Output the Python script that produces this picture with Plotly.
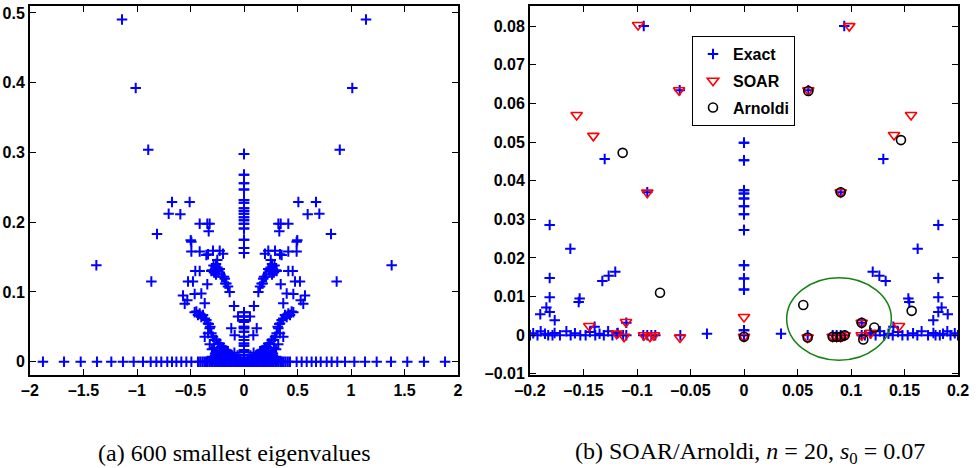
import plotly.graph_objects as go

# ---------------- (a) 600 smallest eigenvalues (right half; spectrum is symmetric in Re) ----
col_y = [0.298, 0.268, 0.256, 0.247, 0.232, 0.228, 0.220, 0.216, 0.212, 0.207, 0.203, 0.198,
         0.191, 0.175, 0.163, 0.156, 0.071, 0.065, 0.060, 0.057, 0.050, 0.048, 0.043, 0.036,
         0.031, 0.026, 0.023, 0.017, 0.014, 0.010, 0.005]

row_x = [0.0, 0.012, 0.025, 0.037, 0.05, 0.062, 0.075, 0.088, 0.1, 0.113, 0.126, 0.139, 0.152,
         0.165, 0.178, 0.191, 0.205, 0.219, 0.233, 0.247, 0.262, 0.277, 0.292, 0.307, 0.323,
         0.339, 0.355, 0.372, 0.39, 0.41, 0.43, 0.492, 0.539, 0.586, 0.632, 0.673, 0.717, 0.773,
         0.819, 0.872, 0.944, 1.031, 1.131, 1.240, 1.374, 1.526, 1.682, 1.879]

near_x = [0.04, 0.07, 0.1, 0.13, 0.16, 0.19, 0.22, 0.25, 0.28, 0.31, 0.06, 0.12, 0.18, 0.24,
          0.3, 0.09, 0.15, 0.21, 0.27]
near_y = [0.004, 0.004, 0.005, 0.005, 0.006, 0.006, 0.005, 0.005, 0.004, 0.003, 0.009, 0.010,
          0.011, 0.009, 0.007, 0.013, 0.015, 0.014, 0.012]

outer_x = [1.140, 1.012, 0.895, 0.508, 0.673, 0.595, 0.704, 0.813, 0.866, 1.380]
outer_y = [0.4905, 0.3926, 0.304, 0.229, 0.229, 0.2116, 0.212, 0.183, 0.115, 0.1385]

lobe_x = [0.321, 0.343, 0.414, 0.330, 0.498, 0.492, 0.492, 0.414, 0.336, 0.290, 0.227, 0.196,
          0.352, 0.25, 0.262, 0.27, 0.285, 0.28, 0.3, 0.24, 0.262, 0.305, 0.249, 0.227, 0.187,
          0.175, 0.150, 0.134, 0.165, 0.180, 0.206, 0.414, 0.455, 0.477, 0.523, 0.343, 0.399,
          0.461, 0.570, 0.530, 0.554, 0.367, 0.093, 0.056, 0.119, 0.087]
lobe_y = [0.198, 0.198, 0.198, 0.187, 0.174, 0.172, 0.158, 0.158, 0.154, 0.159, 0.159, 0.155,
          0.153, 0.146, 0.14, 0.133, 0.138, 0.128, 0.131, 0.13, 0.125, 0.130, 0.135, 0.133,
          0.122, 0.112, 0.108, 0.100, 0.112, 0.119, 0.122, 0.130, 0.130, 0.115, 0.115, 0.111,
          0.098, 0.097, 0.095, 0.088, 0.083, 0.084, 0.080, 0.065, 0.048, 0.038]

arm_x = [0.461, 0.445, 0.430, 0.414, 0.399, 0.383, 0.367, 0.352, 0.336, 0.330, 0.321, 0.315,
         0.305, 0.29, 0.274, 0.259, 0.243, 0.227, 0.212, 0.196, 0.18, 0.165, 0.15, 0.134, 0.118,
         0.103, 0.087, 0.367, 0.336, 0.28, 0.25, 0.22, 0.2, 0.18, 0.32, 0.3, 0.26, 0.23]
arm_y = [0.071, 0.072, 0.067, 0.069, 0.064, 0.067, 0.062, 0.060, 0.055, 0.054, 0.048, 0.050,
         0.041, 0.036, 0.031, 0.031, 0.026, 0.026, 0.021, 0.020, 0.017, 0.016, 0.012, 0.011,
         0.008, 0.006, 0.005, 0.036, 0.041, 0.020, 0.015, 0.010, 0.006, 0.004, 0.025, 0.018,
         0.012, 0.016]

# ---------------- (b) zoom near s0: exact (right half), SOAR and Arnoldi Ritz values -------
ex_col_y = [0.0498, 0.0453, 0.0375, 0.0367, 0.0354, 0.0334, 0.0313, 0.0272, 0.0181, 0.0147,
            0.0118, 0.0013, 0.0]
ex_x = [0.0937, 0.0601, 0.1302, 0.0904, 0.1816, 0.1623, 0.1203, 0.1265, 0.1324, 0.1816,
        0.1816, 0.1536, 0.1545, 0.1847, 0.1816, 0.1904, 0.1769, 0.110, 0.1396, 0.0346,
        0.0595, 0.0829, 0.0866, 0.0904, 0.0941, 0.110, 0.1184,
        0.113, 0.118, 0.123, 0.127, 0.131, 0.135, 0.139, 0.144, 0.148, 0.153, 0.158, 0.162,
        0.166, 0.172, 0.177, 0.179, 0.183, 0.186, 0.190, 0.193, 0.197, 0.2]
ex_y = [0.0800, 0.0634, 0.0456, 0.0370, 0.0285, 0.0224, 0.0164, 0.0154, 0.0140, 0.0148,
        0.0098, 0.0095, 0.0086, 0.0072, 0.0060, 0.0054, 0.0039, 0.0032, 0.0022, 0.0004,
        0.0, 0.0, 0.0, 0.0, 0.0, 0.0, 0.0005,
        0.0, 0.0006, 0.0, 0.001, 0.0, 0.0004, 0.0, 0.0008, 0.0, 0.0, 0.0005, 0.0,
        0.001, 0.0, 0.0006, 0.0, 0.0, 0.0004, 0.001, 0.0, 0.0005, 0.0]

soar_x = [-0.099, 0.0984, -0.1564, 0.1561, -0.1408, 0.1402, -0.0607, 0.0601, -0.0904, 0.0904,
          0.0, 0.0, -0.1446, -0.1103, -0.119, -0.1121, -0.0935, -0.0879, -0.0841, -0.0598,
          0.0595, 0.0829, 0.0866, 0.0904, 0.0941, 0.110, 0.110, 0.1184, 0.1449]
soar_y = [0.0803, 0.0800, 0.0570, 0.0570, 0.0516, 0.0518, 0.0634, 0.0634, 0.0369, 0.0370,
          0.0047, -0.0004, 0.0024, 0.0034, 0.0004, -0.0004, 0.0, -0.0004, 0.0, -0.0006,
          -0.0006, -0.0004, -0.0004, -0.0004, 0.0, 0.0032, 0.0, 0.0006, 0.0024]

arn_x = [-0.1134, 0.1467, 0.0601, 0.0904, -0.0785, 0.0, 0.0554, 0.0595, 0.0829, 0.0866,
         0.0904, 0.0941, 0.110, 0.1115, 0.1218, 0.1567]
arn_y = [0.0472, 0.0505, 0.0632, 0.0370, 0.0110, -0.0004, 0.0078, -0.0006, -0.0004, -0.0004,
         -0.0004, 0.0, 0.0032, -0.0011, 0.0020, 0.0063]

# wanted Ritz values near the shift
ellipse_x = [0.0399, 0.1377]
ellipse_y = [-0.00647, 0.01484]

left_xticks = [-2, -1.5, -1, -0.5, 0, 0.5, 1, 1.5, 2]
left_yticks = [0, 0.1, 0.2, 0.3, 0.4, 0.5]
right_xticks = [-0.2, -0.15, -0.1, -0.05, 0, 0.05, 0.1, 0.15, 0.2]
right_yticks = [-0.01, 0, 0.01, 0.02, 0.03, 0.04, 0.05, 0.06, 0.07, 0.08]


def with_mirror(xs, ys):
    """Eigenvalues come in pairs symmetric about Re = 0."""
    return xs + [-v for v in xs], ys + list(ys)


def labels(vals):
    return ["<b>" + f"{v:g}".replace("-", "\u2013") + "</b>" for v in vals]


half_x = [0.0] * len(col_y) + row_x + near_x + outer_x + lobe_x + arm_x
half_y = col_y + [0.0] * len(row_x) + near_y + outer_y + lobe_y + arm_y
full_x, full_y = with_mirror(half_x, half_y)

exh_x = [0.0] * len(ex_col_y) + ex_x
exh_y = ex_col_y + ex_y
exact_x, exact_y = with_mirror(exh_x, exh_y)

BLUE = "rgb(0,0,255)"
SANS = "Liberation Sans"
TICKFONT = dict(family=SANS, size=16, color="black")

fig = go.Figure()

fig.add_trace(go.Scatter(
    x=full_x, y=full_y, mode="markers", showlegend=False, xaxis="x", yaxis="y",
    marker=dict(symbol="cross-thin-open", size=7.5, color=BLUE,
                line=dict(width=2, color=BLUE))))

fig.add_trace(go.Scatter(
    x=exact_x, y=exact_y, mode="markers", name="<b>Exact</b>", xaxis="x2", yaxis="y2",
    legendgroup="a",
    marker=dict(symbol="cross-thin-open", size=7.5, color=BLUE,
                line=dict(width=2, color=BLUE))))
fig.add_trace(go.Scatter(
    x=soar_x, y=soar_y, mode="markers", name="<b>SOAR</b>", xaxis="x2", yaxis="y2",
    legendgroup="b",
    marker=dict(symbol="triangle-down-open", size=10, color="red",
                line=dict(width=1.6, color="red"))))
fig.add_trace(go.Scatter(
    x=arn_x, y=arn_y, mode="markers", name="<b>Arnoldi</b>", xaxis="x2", yaxis="y2",
    legendgroup="c",
    marker=dict(symbol="circle-open", size=9, color="black",
                line=dict(width=1.6, color="black"))))

axis_common = dict(showgrid=False, zeroline=False, showline=True, linecolor="black",
                   linewidth=2, mirror="ticks", ticks="inside", ticklen=6, tickwidth=1,
                   tickcolor="black", tickfont=TICKFONT, automargin=False)

fig.update_layout(
    width=976, height=468,
    margin=dict(l=0, r=0, t=0, b=0, autoexpand=False),
    paper_bgcolor="white", plot_bgcolor="white",
    xaxis=dict(domain=[30 / 976, 458 / 976], range=[-2, 2], anchor="y",
               tickvals=left_xticks, ticktext=labels(left_xticks), **axis_common),
    yaxis=dict(domain=[93 / 468, 462 / 468], range=[-0.019, 0.51], anchor="x",
               tickvals=left_yticks, ticktext=labels(left_yticks), **axis_common),
    xaxis2=dict(domain=[530 / 976, 958 / 976], range=[-0.2, 0.2], anchor="y2",
                tickvals=right_xticks, ticktext=labels(right_xticks), **axis_common),
    yaxis2=dict(domain=[93 / 468, 462 / 468], range=[-0.0103, 0.0852], anchor="x2",
                tickvals=right_yticks, ticktext=labels(right_yticks), **axis_common),
    legend=dict(x=692 / 976, y=1 - 36 / 468, xanchor="left", yanchor="top",
                bgcolor="white", bordercolor="black", borderwidth=1,
                traceorder="grouped", tracegroupgap=3,
                font=dict(family=SANS, size=16, color="black")),
    shapes=[dict(type="circle", xref="x2", yref="y2",
                 x0=ellipse_x[0], x1=ellipse_x[1], y0=ellipse_y[0], y1=ellipse_y[1],
                 line=dict(color="rgb(20,130,20)", width=1.5))],
    annotations=[
        dict(text="(a) 600 smallest eigenvalues", x=234 / 976, y=1 - 453 / 468,
             xref="paper", yref="paper", showarrow=False, xanchor="center", yanchor="middle",
             font=dict(family="Liberation Serif", size=24, color="black")),
        dict(text="(b) SOAR/Arnoldi, <i>n</i> = 20, <i>s</i><sub>0</sub> = 0.07",
             x=750 / 976, y=1 - 453 / 468,
             xref="paper", yref="paper", showarrow=False, xanchor="center", yanchor="middle",
             font=dict(family="Liberation Serif", size=24, color="black")),
    ],
)

fig.write_html("out.html")
